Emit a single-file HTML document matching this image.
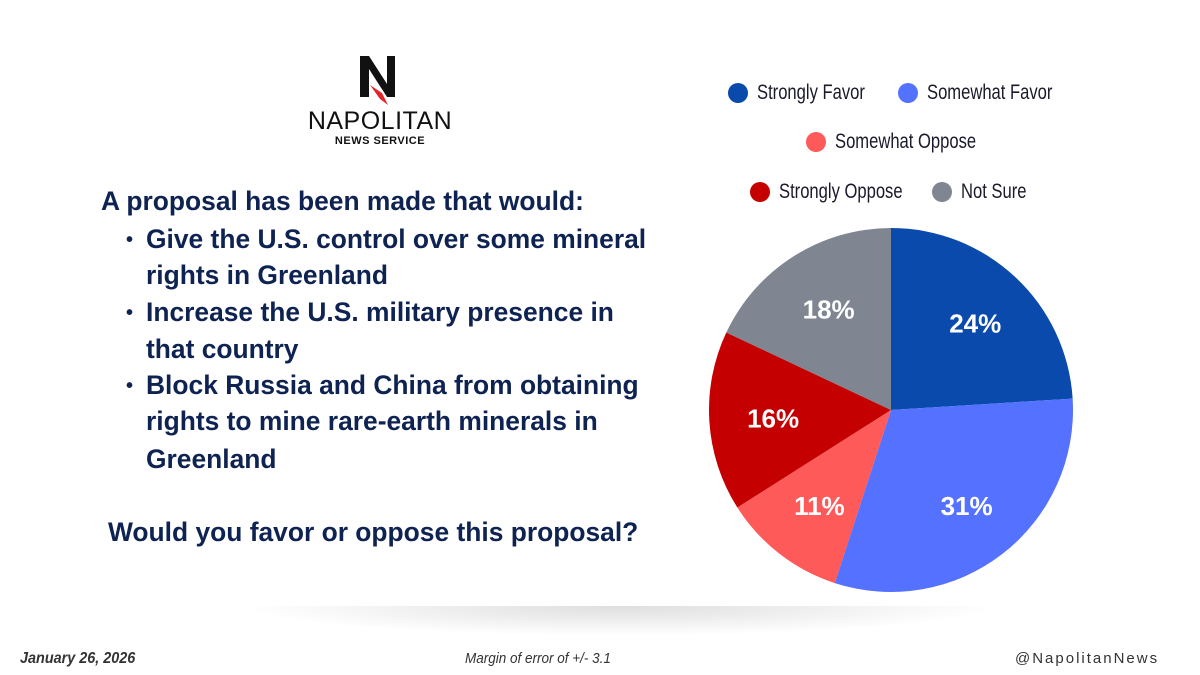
<!DOCTYPE html>
<html><head><meta charset="utf-8"><style>
body{margin:0;width:1200px;height:675px;background:#fff;position:relative;overflow:hidden;font-family:"Liberation Sans",sans-serif}
.t{position:absolute;color:#0f2352;font-weight:bold;font-size:26.4px;white-space:nowrap}
.b{position:absolute;color:#0f2352;font-size:20px;font-weight:bold}
.leg{position:absolute;font-family:"Liberation Sans",sans-serif;font-size:21px;color:#1a1a2a;white-space:nowrap;transform:scaleX(0.79);transform-origin:0 0}
.dot{position:absolute;width:20px;height:20px;border-radius:50%}
.ft{position:absolute;top:650px;font-size:15px;font-style:italic;color:#333;transform:scaleX(0.9);transform-origin:0 0}
</style></head><body>
<div style="position:absolute;left:240px;top:606px;width:760px;height:30px;background:radial-gradient(ellipse at 50% 0%,rgba(0,0,0,0.13),rgba(0,0,0,0) 70%)"></div>
<div style="position:absolute;left:300px;top:55px;width:160px;height:100px">
<svg width="160" height="50" style="position:absolute;left:0;top:0"><path d="M60 1h9l18 28V1h8v41h-8L69 14v28h-9z" fill="#111"/><path d="M70 30l12 8 6 12-8-6z" fill="#e0262b"/></svg>
<div style="position:absolute;top:52px;left:0;width:160px;text-align:center;font-size:25px;color:#111;letter-spacing:0.5px">NAPOLITAN</div>
<div style="position:absolute;top:80px;left:0;width:160px;text-align:center;font-size:11px;font-weight:bold;color:#111;letter-spacing:0.5px">NEWS SERVICE</div>
</div>
<div class="t" style="left:101px;top:186px">A proposal has been made that would:</div>
<div class="b" style="left:126px;top:229px">•</div>
<div class="t" style="left:146px;top:224px">Give the U.S. control over some mineral</div>
<div class="t" style="left:146px;top:260px">rights in Greenland</div>
<div class="b" style="left:126px;top:302px">•</div>
<div class="t" style="left:146px;top:297px">Increase the U.S. military presence in</div>
<div class="t" style="left:146px;top:334px">that country</div>
<div class="b" style="left:126px;top:375px">•</div>
<div class="t" style="left:146px;top:370px">Block Russia and China from obtaining</div>
<div class="t" style="left:146px;top:406px">rights to mine rare-earth minerals in</div>
<div class="t" style="left:146px;top:444px">Greenland</div>
<div class="t" style="left:108px;top:517px">Would you favor or oppose this proposal?</div>

<div class="dot" style="left:728px;top:83px;background:#0a4aad"></div>
<div class="leg" style="left:757px;top:81px">Strongly Favor</div>
<div class="dot" style="left:898px;top:83px;background:#5571ff"></div>
<div class="leg" style="left:927px;top:81px">Somewhat Favor</div>
<div class="dot" style="left:806px;top:132px;background:#ff5a5a"></div>
<div class="leg" style="left:835px;top:130px">Somewhat Oppose</div>
<div class="dot" style="left:750px;top:182px;background:#c50000"></div>
<div class="leg" style="left:779px;top:180px">Strongly Oppose</div>
<div class="dot" style="left:932px;top:182px;background:#7f8591"></div>
<div class="leg" style="left:961px;top:180px">Not Sure</div>

<svg id="pie" width="1200" height="675" style="position:absolute;left:0;top:0"></svg>

<div class="ft" style="left:20px;font-weight:bold;font-size:16px">January 26, 2026</div>
<div class="ft" style="left:465px;font-size:15px">Margin of error of +/- 3.1</div>
<div class="ft" style="left:1015px;font-style:normal;letter-spacing:2px;transform:none">@NapolitanNews</div>
<script>
const categories=["Strongly Favor","Somewhat Favor","Somewhat Oppose","Strongly Oppose","Not Sure"];
const values=[24,31,11,16,18];
const labels=["24%","31%","11%","16%","18%"];
const colors=["#0a4aad","#5571ff","#ff5a5a","#c50000","#7f8591"];
const svg=document.getElementById('pie');
const cx=891,cy=410,r=182,NS="http://www.w3.org/2000/svg";
const total=values.reduce((a,b)=>a+b,0);
let a0=0;
function pt(a,rr){return [cx+rr*Math.sin(a),cy-rr*Math.cos(a)];}
values.forEach((v,i)=>{
  const a1=a0+v/total*2*Math.PI;
  const p0=pt(a0,r),p1=pt(a1,r);
  const path=document.createElementNS(NS,'path');
  path.setAttribute('d',`M${cx},${cy}L${p0[0]},${p0[1]}A${r},${r} 0 ${a1-a0>Math.PI?1:0} 1 ${p1[0]},${p1[1]}Z`);
  path.setAttribute('fill',colors[i]);
  
  
  svg.appendChild(path);
  const lp=pt((a0+a1)/2,r*0.66);
  const t=document.createElementNS(NS,'text');
  t.setAttribute('x',lp[0]+2);t.setAttribute('y',lp[1]+10);
  t.setAttribute('text-anchor','middle');t.setAttribute('fill','#fff');
  t.setAttribute('font-family','Liberation Sans, sans-serif');t.setAttribute('font-weight','bold');t.setAttribute('font-size','26');
  t.textContent=labels[i];
  
  
  svg.appendChild(t);
  a0=a1;
});
</script>
</body></html>
